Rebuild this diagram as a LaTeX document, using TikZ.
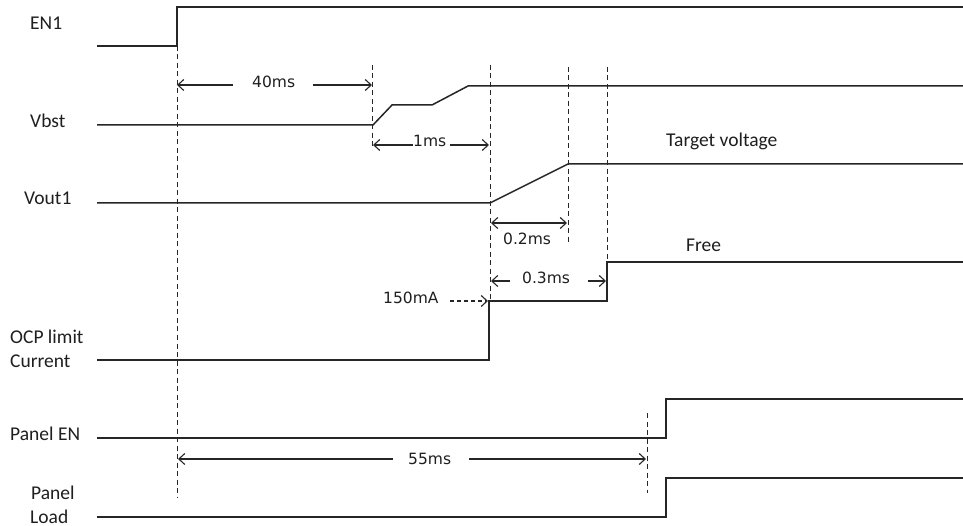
\documentclass[tikz,border=0pt]{standalone}
\usepackage{fontspec}
\setmainfont{Carlito}
\newfontfamily\dejavu{DejaVu Sans}
\usetikzlibrary{arrows.meta}
\begin{document}
\begin{tikzpicture}[x=1pt,y=-1pt,
  sig/.style={line width=1.5pt, line join=miter, draw=black!85},
  guide/.style={line width=1pt, dash pattern=on 5pt off 3.5pt, draw=black!85},
  dim/.style={line width=1.1pt, draw=black!85},
  barb/.tip={Straight Barb[length=6pt,width=11pt,line width=1.1pt]},
  lbl/.style={anchor=base west, inner sep=0pt, font=\fontsize{19.5}{22}\selectfont, text=black!88},
  tm/.style={anchor=base west, inner sep=0pt, font=\dejavu\fontsize{15.5}{18}\selectfont, text=black!88}]
\useasboundingbox[fill=white] (0,0) rectangle (963,526);

% signal labels
\node[lbl] (en1) at (30,30) {EN1};
\node[lbl] (vbst) at (30,128) {Vbst};
\node[lbl] (vout) at (24,205) {Vout1};
\node[lbl] (ocpa) at (10,343) {OCP limit};
\node[lbl] (ocpb) at (10,367) {Current};
\node[lbl] (pen) at (10,440) {Panel EN};
\node[lbl] (pla) at (31,499) {Panel};
\node[lbl] (plb) at (30,523) {Load};
\node[lbl] (tv) at (666,147) {Target voltage};
\node[lbl] (free) at (686,252) {Free};

% waveforms
\draw[sig] (97,46) -- (177,46) -- (177,7) -- (963,7);
\draw[sig] (97,125) -- (373,125) -- (392,105) -- (432,105) -- (468,86) -- (963,86);
\draw[sig] (97,203) -- (490,203) -- (568,164) -- (963,164);
\draw[sig] (97,360) -- (489,360) -- (489,301) -- (607,301) -- (607,262) -- (963,262);
\draw[sig] (97,438) -- (666,438) -- (666,399) -- (963,399);
\draw[sig] (97,517) -- (666,517) -- (666,478) -- (963,478);

% timing guides
\coordinate (g0a) at (177,46);  \coordinate (g0b) at (177,497);
\coordinate (g1a) at (372,65);  \coordinate (g1b) at (372,150);
\coordinate (g2a) at (490,65);  \coordinate (g2b) at (490,301);
\coordinate (g3a) at (568,67);  \coordinate (g3b) at (568,243);
\coordinate (g4a) at (607,67);  \coordinate (g4b) at (607,300);
\coordinate (g5a) at (647,413); \coordinate (g5b) at (647,493);
\foreach \g in {g0,g1,g2,g3,g4,g5} \draw[guide] (\g a) -- (\g b);

% 40ms
\coordinate (a40l) at (177,85); \coordinate (a40r) at (372,85);
\node[tm] (t40) at (252,88) {40ms};
\draw[dim, barb-] (a40l) -- (233,85);
\draw[dim, -barb] (313,85) -- (a40r);

% 1ms
\coordinate (a1l) at (373,145); \coordinate (a1r) at (489,145);
\node[tm] (t1) at (413,147) {1ms};
\draw[dim, barb-] (a1l) -- (t1.west |- a1l);
\draw[dim, -barb] (450,145) -- (a1r);

% 0.2ms
\coordinate (a2l) at (491,223); \coordinate (a2r) at (567,223);
\draw[dim, barb-barb] (a2l) -- (a2r);
\node[tm] (t2) at (503,245) {0.2ms};

% 0.3ms
\coordinate (a3l) at (491,281); \coordinate (a3r) at (606,281);
\node[tm] (t3) at (522,284) {0.3ms};
\draw[dim, barb-] (a3l) -- (510,281);
\draw[dim, -barb] (588,281) -- (a3r);

% 150mA
\node[tm] (t150) at (383,304) {150mA};
\coordinate (c150) at (488,301);
\draw[dim, dash pattern=on 4pt off 3pt, -barb] (450,301) -- (c150);

% 55ms
\coordinate (a55l) at (178,459); \coordinate (a55r) at (646,459);
\node[tm] (t55) at (408,464) {55ms};
\draw[dim, barb-] (a55l) -- (393,459);
\draw[dim, -barb] (469,459) -- (a55r);
\end{tikzpicture}
\end{document}
